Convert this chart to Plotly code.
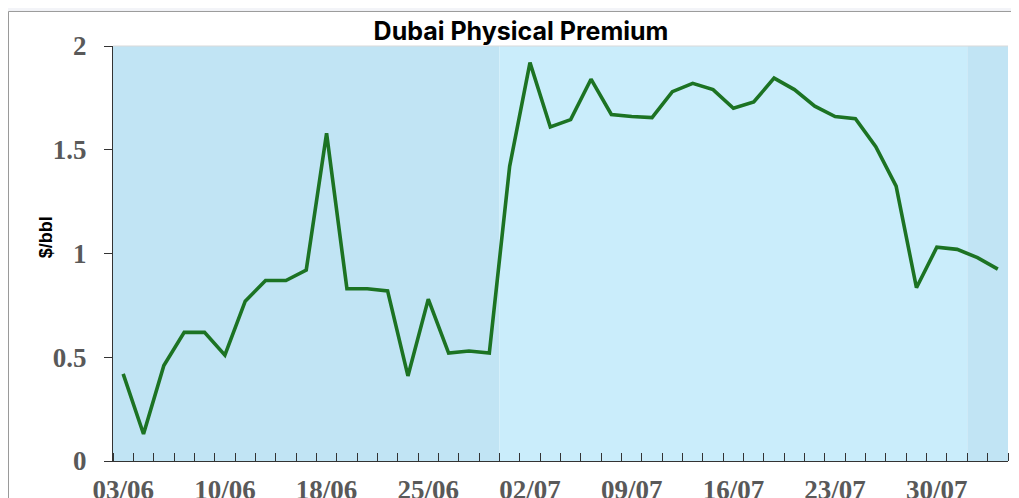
import plotly.graph_objects as go

# ---- data ----
dates = ["03/06", "04/06", "05/06", "06/06", "07/06", "10/06", "11/06", "12/06", "13/06", "14/06",
         "18/06", "19/06", "20/06", "21/06", "24/06", "25/06", "26/06", "27/06", "28/06",
         "01/07", "02/07", "03/07", "04/07", "05/07", "08/07", "09/07", "10/07", "11/07", "12/07",
         "15/07", "16/07", "17/07", "18/07", "19/07", "22/07", "23/07", "24/07", "25/07", "26/07",
         "29/07", "30/07", "31/07", "01/08", "02/08"]
premium = [0.42, 0.13, 0.46, 0.62, 0.62, 0.51, 0.77, 0.87, 0.87, 0.92,
           1.58, 0.83, 0.83, 0.82, 0.41, 0.78, 0.52, 0.53, 0.52,
           1.42, 1.92, 1.61, 1.645, 1.84, 1.67, 1.66, 1.655, 1.78, 1.82,
           1.79, 1.70, 1.73, 1.845, 1.79, 1.71, 1.66, 1.65, 1.515, 1.325,
           0.835, 1.03, 1.02, 0.98, 0.925]
label_every = 5
y_ticks = [0, 0.5, 1, 1.5, 2]
month_colors = {"06": "#C1E4F4", "07": "#CAEDFB", "08": "#C1E4F4"}

x = list(range(len(dates)))
months = [d.split("/")[1] for d in dates]

# the page body adds an 8px offset; layout below is in figure pixels
OFF = 8
W, H = 1019 - OFF, 498 - OFF
px_l, px_r, px_t, px_b = 113 - OFF, 1008 - OFF, 46 - OFF, 460.7 - OFF

fig = go.Figure()
fig.add_trace(go.Scatter(x=x, y=premium, mode="lines",
                         line=dict(color="#1C7323", width=3.6),
                         hovertext=dates, showlegend=False))

def px2x(p):
    return (p - px_l) / (px_r - px_l)
def py2y(p):
    return (px_b - p) / (px_b - px_t)

shapes = []
# card background
shapes.append(dict(type="rect", xref="paper", yref="paper", layer="below",
                   x0=px2x(0.5), x1=px2x(W + 60), y0=py2y(11.5 - OFF), y1=py2y(H + 60),
                   fillcolor="white", line=dict(color="#9A9A9A", width=1)))
# month shading derived from the data
start = 0
for i in range(1, len(months) + 1):
    if i == len(months) or months[i] != months[start]:
        shapes.append(dict(type="rect", xref="x", yref="paper", layer="below",
                           x0=start - 0.5, x1=i - 0.5, y0=0, y1=1,
                           fillcolor=month_colors[months[start]], line=dict(width=0)))
        start = i
shapes.append(dict(type="line", xref="paper", yref="paper", x0=0, x1=1, y0=1, y1=1,
                   line=dict(color="#D9D9D9", width=1)))

tick_font = dict(family="Liberation Serif", size=27, color="#595959", weight="bold")

fig.update_layout(
    width=W, height=H,
    margin=dict(l=px_l, r=W - px_r, t=px_t, b=H - px_b, autoexpand=False),
    paper_bgcolor="#F3F4F8", plot_bgcolor="rgba(0,0,0,0)",
    shapes=shapes,
    title=dict(text="Dubai Physical Premium", xref="container", yref="container",
               x=(521 - OFF) / W, y=1 - (31 - OFF) / H, xanchor="center", yanchor="middle",
               automargin=False,
               font=dict(family="Inter", size=25, color="black", weight="bold")),
    annotations=[dict(text="$/bbl", xref="paper", yref="paper", showarrow=False,
                      x=px2x(45.5 - OFF), y=py2y(237.5 - OFF), xanchor="center", yanchor="middle",
                      textangle=-90,
                      font=dict(family="Liberation Sans", size=18, color="black", weight="bold"))],
    xaxis=dict(range=[-0.5, len(dates) - 0.5], showgrid=False, zeroline=False, automargin=False,
               tickmode="array", tickvals=x[::label_every], ticktext=dates[::label_every],
               ticks="", tickfont=tick_font, showline=True, linecolor="#333333", linewidth=1,
               minor=dict(ticks="inside", ticklen=8, tickcolor="#333333", tickmode="linear",
                          tick0=-0.5, dtick=1, showgrid=False),
               ticklabelstandoff=5),
    yaxis=dict(range=[0, 2], tickvals=y_ticks, showgrid=False, zeroline=False, automargin=False,
               ticks="outside", ticklen=8, tickcolor="#333333",
               showline=True, linecolor="#333333", linewidth=1,
               tickfont=tick_font, ticklabelstandoff=12),
)

fig.write_html("out.html")
